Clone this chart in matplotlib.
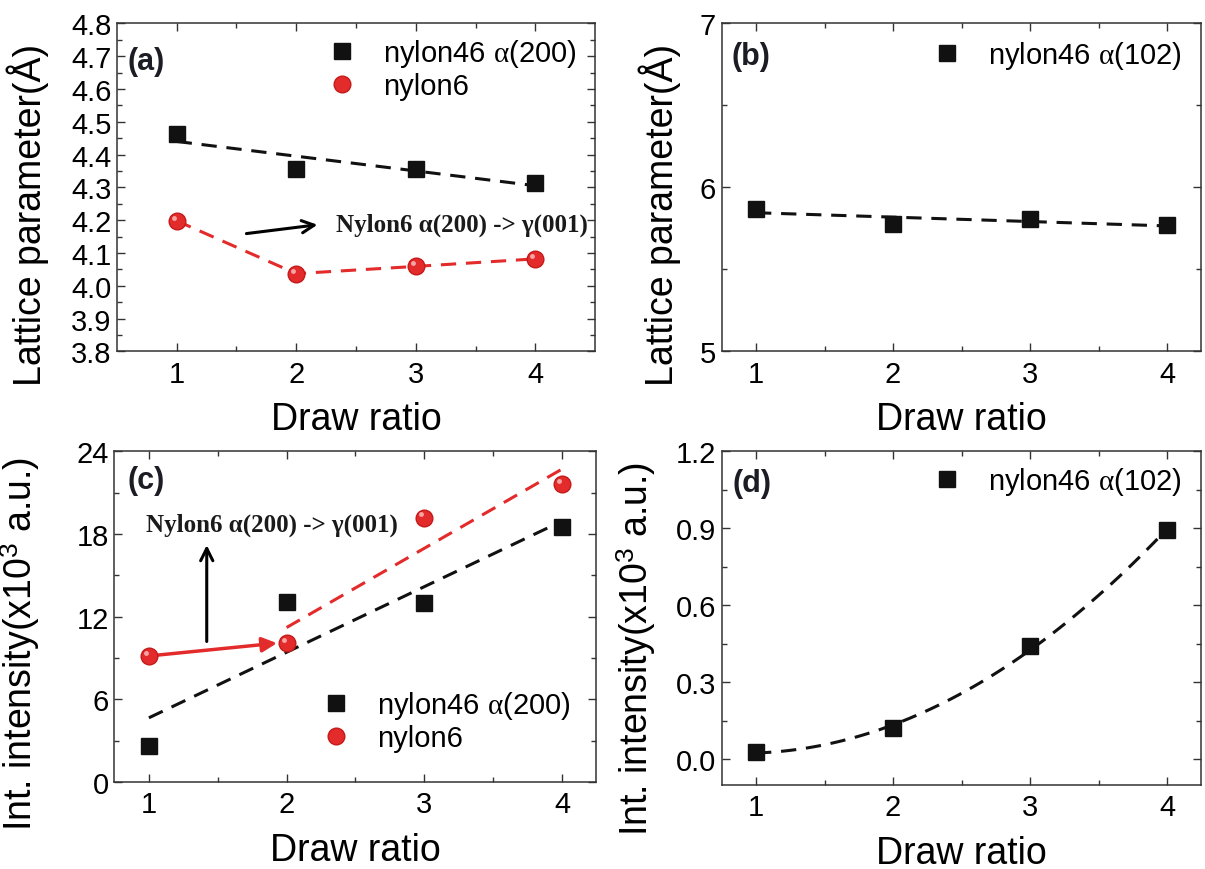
#IMPORT NECESSARY LIBRARIES
import numpy as np
import matplotlib.pyplot as plt
from matplotlib.ticker import MultipleLocator, FixedLocator, FormatStrFormatter
from matplotlib.transforms import offset_copy

plt.rcParams['font.family'] = ['Liberation Sans', 'DejaVu Sans']
plt.rcParams['mathtext.fontset'] = 'custom'
plt.rcParams['mathtext.rm'] = 'Liberation Sans'
plt.rcParams['mathtext.it'] = 'Liberation Serif'
plt.rcParams['mathtext.bf'] = 'Liberation Sans:bold'


#DATA
draw_ratio = [1, 2, 3, 4]
a_nylon46 = [4.463, 4.357, 4.357, 4.313]     # lattice parameter, alpha(200)
a_nylon6 = [4.198, 4.037, 4.059, 4.082]
b_nylon46 = [5.870, 5.774, 5.806, 5.770]     # lattice parameter, alpha(102)
c_nylon46 = [2.6, 13.1, 13.0, 18.5]          # int. intensity (x10^3), alpha(200)
c_nylon6 = [9.15, 10.1, 19.2, 21.6]
d_nylon46 = [0.028, 0.119, 0.439, 0.893]     # int. intensity (x10^3), alpha(102)

note = "Nylon6 α(200) -> γ(001)"
lab200 = r"nylon46 $\alpha$(200)"
lab102 = r"nylon46 $\alpha$(102)"
lab6 = "nylon6"

BLACK = "#111111"
RED = "#e32b2b"
DASH = (0, (5, 3.2))


def fit_line(x, y, deg=1, x0=1, x1=4):
    p = np.polyfit(x, y, deg)
    xx = np.linspace(x0, x1, 60)
    return xx, np.polyval(p, xx)


def style(ax, xlim, ylim, ymaj, ymin, fmt, ylabsize=21):
    ax.set_xlim(*xlim)
    ax.set_ylim(*ylim)
    ax.xaxis.set_major_locator(FixedLocator([1, 2, 3, 4]))
    ax.xaxis.set_minor_locator(FixedLocator([1.5, 2.5, 3.5]))
    ax.yaxis.set_major_locator(MultipleLocator(ymaj))
    ax.yaxis.set_minor_locator(MultipleLocator(ymin))
    ax.yaxis.set_major_formatter(FormatStrFormatter(fmt))
    ax.tick_params(which='both', direction='in', top=True, right=True, color='#333333')
    ax.tick_params(which='major', length=6, width=1)
    ax.tick_params(which='minor', length=3.5, width=1)
    ax.tick_params(axis='x', labelsize=21, pad=6)
    ax.tick_params(axis='y', labelsize=ylabsize, pad=4)
    for s in ax.spines.values():
        s.set_linewidth(1.1)
        s.set_color('#333333')


def marks(ax, y, kind, label):
    if kind == 'sq':
        ax.plot(draw_ratio, y, 's', color=BLACK, ms=11, label=label, zorder=5)
    else:
        ax.plot(draw_ratio, y, 'o', color=RED, mec='#c41a1a', ms=12, label=label, zorder=5)
        # small glossy highlight on the red balls
        tr = offset_copy(ax.transData, fig=ax.figure, x=-2.2, y=2.2, units='points')
        ax.plot(draw_ratio, y, 'o', color='#f6a5a5', mec='none', ms=3.5,
                transform=tr, zorder=6)


def legend(ax, x, y):
    ax.legend(loc='upper left', bbox_to_anchor=(x, y), frameon=False, fontsize=21,
              handlelength=1.0, handletextpad=0.9, labelspacing=0.1, borderpad=0,
              borderaxespad=0)


def panel_tag(ax, x, y, s):
    ax.text(x, y, s, transform=ax.transAxes, fontsize=22, fontweight='bold',
            va='center', color='#1c1c24')


fig = plt.figure(figsize=(12.05, 8.7), dpi=100)
axa = fig.add_axes([0.097, 0.595, 0.397, 0.377])
axb = fig.add_axes([0.599, 0.595, 0.398, 0.377])
axc = fig.add_axes([0.095, 0.100, 0.400, 0.380])
axd = fig.add_axes([0.599, 0.097, 0.398, 0.383])


#PANEL (a)
xx, yy = fit_line(draw_ratio, a_nylon46)
axa.plot(xx, yy, color=BLACK, lw=2.2, ls=DASH)
axa.plot(draw_ratio, a_nylon6, color=RED, lw=2.2, ls=DASH)
marks(axa, a_nylon46, 'sq', lab200)
marks(axa, a_nylon6, 'o', lab6)
axa.annotate('', xy=(2.2, 4.187), xytext=(1.56, 4.158),
             arrowprops=dict(arrowstyle='->', color='k', lw=2.2, mutation_scale=22))
axa.text(2.33, 4.186, note, fontsize=18, fontweight='bold', family='Liberation Serif',
         va='center', ha='left', color='#1a1a1a')
style(axa, (0.5, 4.5), (3.8, 4.8), 0.1, 0.05, '%.1f')
axa.set_xlabel('Draw ratio', fontsize=27)
axa.set_ylabel('Lattice parameter(Å)', fontsize=27)
axa.yaxis.set_label_coords(-0.142, 0.42)
axa.xaxis.set_label_coords(0.5, -0.15)
panel_tag(axa, 0.023, 0.885, '(a)')
legend(axa, 0.44, 0.957)


#PANEL (b)
xx, yy = fit_line(draw_ratio, b_nylon46)
axb.plot(xx, yy, color=BLACK, lw=2.2, ls=DASH)
marks(axb, b_nylon46, 'sq', lab102)
style(axb, (0.75, 4.25), (5, 7), 1, 0.5, '%d')
axb.set_xlabel('Draw ratio', fontsize=27)
axb.set_ylabel('Lattice parameter(Å)', fontsize=27)
axb.yaxis.set_label_coords(-0.085, 0.42)
axb.xaxis.set_label_coords(0.5, -0.15)
panel_tag(axb, 0.02, 0.9, '(b)')
legend(axb, 0.44, 0.951)


#PANEL (c)
xx, yy = fit_line(draw_ratio, c_nylon46)
axc.plot(xx, yy, color=BLACK, lw=2.2, ls=DASH)
xx, yy = fit_line(draw_ratio[1:], c_nylon6[1:], x0=2)
axc.plot(xx, yy, color=RED, lw=2.2, ls=DASH)
marks(axc, c_nylon46, 'sq', lab200)
marks(axc, c_nylon6, 'o', lab6)
axc.annotate('', xy=(1.95, c_nylon6[1]), xytext=(draw_ratio[0], c_nylon6[0]),
             arrowprops=dict(arrowstyle='-|>', color=RED, lw=2.5, mutation_scale=22))
axc.annotate('', xy=(1.42, 17.4), xytext=(1.42, 10.0),
             arrowprops=dict(arrowstyle='->', color='k', lw=2.2, mutation_scale=22))
axc.text(0.98, 18.7, note, fontsize=18, fontweight='bold', family='Liberation Serif',
         va='center', ha='left', color='#1a1a1a')
style(axc, (0.75, 4.25), (0, 24), 6, 3, '%d')
axc.set_xlabel('Draw ratio', fontsize=27)
axc.set_ylabel(r'Int. intensity(x10$^3$ a.u.)', fontsize=27)
axc.yaxis.set_label_coords(-0.151, 0.42)
axc.xaxis.set_label_coords(0.5, -0.15)
panel_tag(axc, 0.027, 0.915, '(c)')
legend(axc, 0.43, 0.28)


#PANEL (d)
xx, yy = fit_line(draw_ratio, d_nylon46, deg=2)
axd.plot(xx, yy, color=BLACK, lw=2.2, ls=DASH)
marks(axd, d_nylon46, 'sq', lab102)
style(axd, (0.75, 4.25), (-0.1, 1.2), 0.3, 0.15, '%.1f')
axd.set_xlabel('Draw ratio', fontsize=27)
axd.set_ylabel(r'Int. intensity(x10$^3$ a.u.)', fontsize=27)
axd.yaxis.set_label_coords(-0.133, 0.41)
axd.xaxis.set_label_coords(0.5, -0.15)
panel_tag(axd, 0.022, 0.905, '(d)')
legend(axd, 0.44, 0.96)


fig.savefig('out.png', dpi=100)
